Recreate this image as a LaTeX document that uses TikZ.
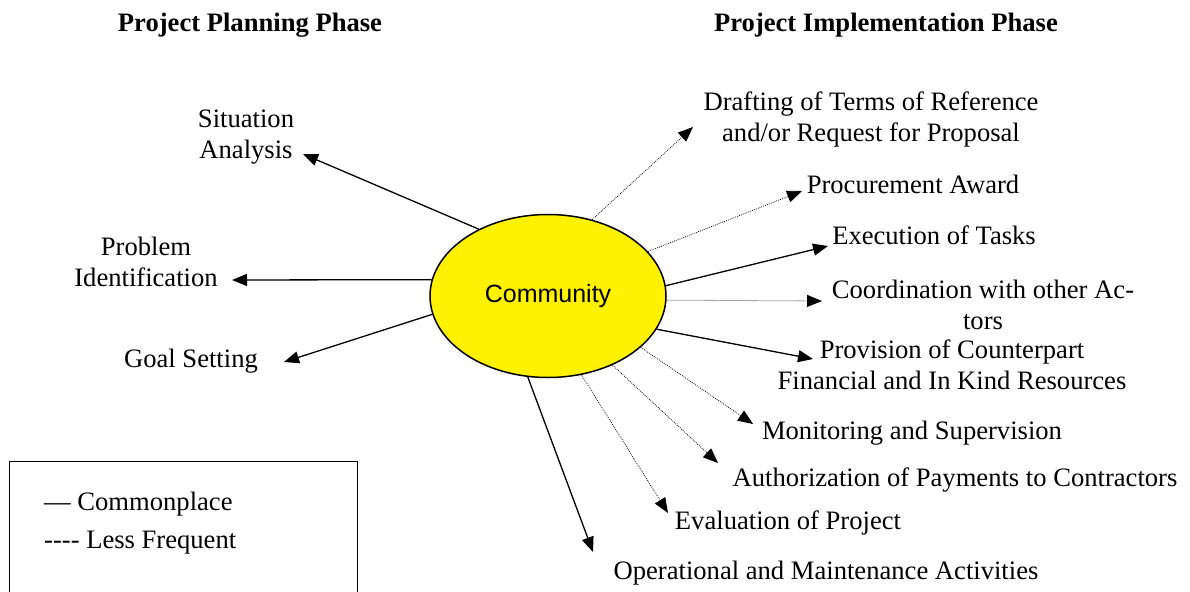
\documentclass[tikz,border=0pt]{standalone}
\usepackage{fontspec}
\setmainfont{Liberation Serif}
\newfontfamily\commfont{Liberation Sans}
\usetikzlibrary{arrows.meta,shapes.geometric}

\begin{document}
\begin{tikzpicture}[x=1pt,y=-1pt,
  % multi-line labels are placed by the baseline of their last line
  lbl/.style={font=\fontsize{26.6}{30.5}\selectfont, inner sep=0pt, align=center, anchor=base},
  ttl/.style={lbl, font=\fontsize{26.6}{30.5}\selectfont\bfseries},
  legtext/.style={font=\fontsize{26.6}{30.5}\selectfont, inner sep=0pt, anchor=base west},
  tip/.style={-{Triangle[length=15pt,width=12pt]}},
  solidarrow/.style={tip, line width=1.3pt},
  dottedarrow/.style={tip, line width=0.8pt, dash pattern=on 0.8pt off 1.2pt},
]
\useasboundingbox (0,0) rectangle (1190,591);

% phase headings
\node[ttl] (hplan) at (250,32) {Project Planning Phase};
\node[ttl] (himpl) at (886,32) {Project Implementation Phase};

% central actor
\node[ellipse, draw, line width=1.5pt, fill=yellow, minimum width=236pt,
      minimum height=163pt, inner sep=0pt,
      font=\commfont\fontsize{25}{30}\selectfont] (comm) at (548,296) {Community};

% planning phase activities
\node[lbl] (sit)  at (246,158) {Situation\\Analysis};
\node[lbl] (prob) at (146,286) {Problem\\Identification};
\node[lbl] (goal) at (191,367) {Goal Setting};

% implementation phase activities
\node[lbl] (draft) at (871,141) {Drafting of Terms of Reference\\and/or Request for Proposal};
\node[lbl] (proc)  at (913,193) {Procurement Award};
\node[lbl] (exec)  at (934,244) {Execution of Tasks};
\node[lbl] (coord) at (983,329) {Coordination with other Ac-\\tors};
\node[lbl] (prov)  at (952,389) {Provision of Counterpart\\Financial and In Kind Resources};
\node[lbl] (mon)   at (912,439) {Monitoring and Supervision};
\node[lbl] (auth)  at (955,486) {Authorization of Payments to Contractors};
\node[lbl] (eval)  at (788,529) {Evaluation of Project};
\node[lbl] (oper)  at (826,579) {Operational and Maintenance Activities};

% arrow tips next to each activity
\coordinate (tsit)   at (303,154);
\coordinate (tprob)  at (232,280);
\coordinate (tgoal)  at (284,362);
\coordinate (tdraft) at (693,127);
\coordinate (tproc)  at (802,191);
\coordinate (texec)  at (828,246);
\coordinate (tcoord) at (822,301);
\coordinate (tprov)  at (813,359);
\coordinate (tmon)   at (753,424);
\coordinate (tauth)  at (718,463);
\coordinate (teval)  at (668,513);
\coordinate (toper)  at (593,552);

% commonplace involvement
\draw[solidarrow] (comm.136.6) -- (tsit);
\draw[solidarrow] (comm.172.3) -- (tprob);
\draw[solidarrow] (comm.189.8) -- (tgoal);
\draw[solidarrow] (comm.5.8)   -- (texec);
\draw[solidarrow] (comm.-17.4) -- (tprov);
\draw[solidarrow] (comm.-104)  -- (toper);

% less frequent involvement
\draw[dottedarrow] (comm.60.6)  -- (tdraft);
\draw[dottedarrow] (comm.24.0)  -- (tproc);
\draw[dottedarrow] (comm.-2.4)  -- (tcoord);
\draw[dottedarrow] (comm.-29)   -- (tmon);
\draw[dottedarrow] (comm.-47.2) -- (tauth);
\draw[dottedarrow] (comm.-67.8) -- (teval);

% legend
\node[draw, line width=1.3pt, anchor=north west, minimum width=348pt,
      minimum height=160pt, inner sep=0pt] (legend) at (9,461) {};
\node[legtext] (lcommon) at (44,510) {— Commonplace};
\node[legtext] (lless)   at (44,548) {-{}-{}-{}- Less Frequent};
\end{tikzpicture}
\end{document}
